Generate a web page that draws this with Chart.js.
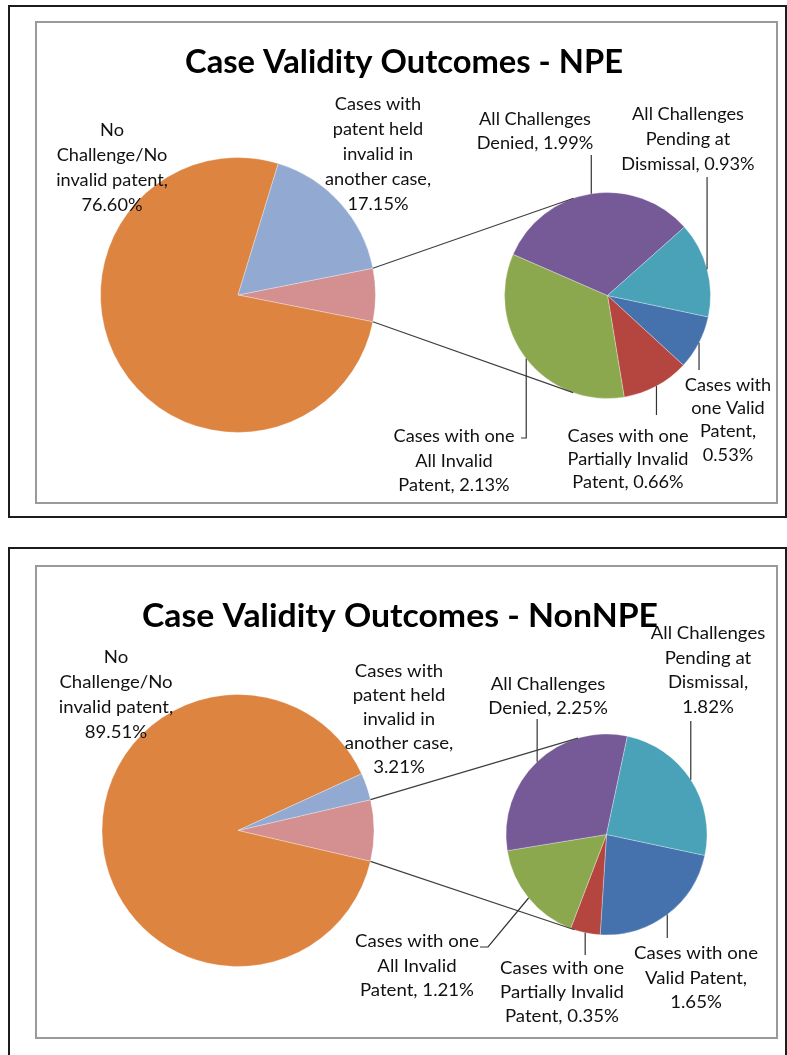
<!DOCTYPE html>
<html lang="en">
<head>
<meta charset="UTF-8">
<title>Case Validity Outcomes</title>
<script src="https://cdn.jsdelivr.net/npm/chart.js@4.4.1/dist/chart.umd.min.js"></script>
<style>
  html, body { margin: 0; padding: 0; background: #fff; width: 787px; height: 1055px; overflow: hidden; }
  .outer { position: absolute; border: 2px solid #1c1c1c; box-sizing: border-box; }
  .inner { position: absolute; border: 2px solid #9a9a9a; box-sizing: border-box; }
  canvas { position: absolute; left: 0; top: 0; }
</style>
</head>
<body>
<div class="outer" style="left:8px;top:5px;width:779px;height:513px"></div>
<div class="inner" style="left:35px;top:21px;width:743px;height:483px"></div>
<div class="outer" style="left:8px;top:547px;width:779px;height:520px"></div>
<div class="inner" style="left:35px;top:565px;width:743px;height:474px"></div>
<canvas id="main1" width="787" height="1055"></canvas>
<canvas id="sub1" width="787" height="1055"></canvas>
<canvas id="main2" width="787" height="1055"></canvas>
<canvas id="sub2" width="787" height="1055"></canvas>

<script>
// ---- data ----
const mainCategories = ['No Challenge/No invalid patent', 'Cases with patent held invalid in another case'];
const subCategories = [
  'Cases with one Valid Patent',
  'Cases with one Partially Invalid Patent',
  'Cases with one All Invalid Patent',
  'All Challenges Denied',
  'All Challenges Pending at Dismissal'
];
const npeMain = [76.60, 17.15];
const npeSub = [0.53, 0.66, 2.13, 1.99, 0.93];
const nonNpeMain = [89.51, 3.21];
const nonNpeSub = [1.65, 0.35, 1.21, 2.25, 1.82];

// ---- style ----
const otherColor = '#d49090';
const mainColors = ['#de8441', '#92a9d2'];
const subColors = ['#4571ad', '#b4463f', '#8ca84f', '#765a98', '#49a2b8'];
const W = 787, H = 1055;
const BODY_FONT = '18px Lato, "Open Sans", sans-serif';
const TITLE_FONT = 'bold 32px Lato, "Open Sans", sans-serif';

const fmt = v => v.toFixed(2) + '%';

const panels = [
  {
    title: 'Case Validity Outcomes - NPE', titleX: 404, titleY: 73, titleW: 438, bodyW: 121,
    main: npeMain, sub: npeSub,
    mainPie: { x: 238, y: 295, r: 137.5 },
    subPie: { x: 607.5, y: 295.5, r: 103 },
    mainLabels: [
      { lines: ['No', 'Challenge/No', 'invalid patent,', '{v}'], x: 112, y: 136, lh: 25 },
      { lines: ['Cases with', 'patent held', 'invalid in', 'another case,', '{v}'], x: 378, y: 110, lh: 25 }
    ],
    subLabels: [
      { lines: ['Cases with', 'one Valid', 'Patent,', '{v}'], x: 728, y: 390.5, lh: 23.4, leader: [{ y: 370 }] },
      { lines: ['Cases with one', 'Partially Invalid', 'Patent, {v}'], x: 628, y: 442, lh: 23, leader: [{ y: 415 }] },
      { lines: ['Cases with one', 'All Invalid', 'Patent, {v}'], x: 454, y: 442, lh: 24.5, leader: [{ y: 438 }, { x: 521, y: 438 }] },
      { lines: ['All Challenges', 'Denied, {v}'], x: 535, y: 125, lh: 24, leader: [{ y: 155 }] },
      { lines: ['All Challenges', 'Pending at', 'Dismissal, {v}'], x: 688, y: 120, lh: 25, leader: [{ y: 177 }] }
    ]
  },
  {
    title: 'Case Validity Outcomes - NonNPE', titleX: 400, titleY: 627, titleW: 516, bodyW: 124,
    main: nonNpeMain, sub: nonNpeSub,
    mainPie: { x: 238, y: 830.5, r: 136 },
    subPie: { x: 606.5, y: 834.5, r: 100.5 },
    mainLabels: [
      { lines: ['No', 'Challenge/No', 'invalid patent,', '{v}'], x: 116, y: 663, lh: 25 },
      { lines: ['Cases with', 'patent held', 'invalid in', 'another case,', '{v}'], x: 399, y: 677, lh: 24 }
    ],
    subLabels: [
      { lines: ['Cases with one', 'Valid Patent,', '{v}'], x: 696, y: 959, lh: 24.5, leader: [{ y: 938 }] },
      { lines: ['Cases with one', 'Partially Invalid', 'Patent, {v}'], x: 562, y: 974, lh: 24, leader: [{ y: 955 }] },
      { lines: ['Cases with one', 'All Invalid', 'Patent, {v}'], x: 417, y: 947, lh: 24.5, leader: [{ x: 488, y: 947 }, { x: 480, y: 947 }] },
      { lines: ['All Challenges', 'Denied, {v}'], x: 548, y: 690, lh: 24, leader: [{ y: 719 }] },
      { lines: ['All Challenges', 'Pending at', 'Dismissal,', '{v}'], x: 708, y: 639, lh: 24.7, leader: [{ y: 721 }] }
    ]
  }
];

function padFor(c) {
  const m = 4;
  return { left: c.x - c.r - m, right: W - c.x - c.r - m, top: c.y - c.r - m, bottom: H - c.y - c.r - m };
}

function drawLines(ctx, lines, x, y, lh, sx) {
  lines.forEach((t, i) => {
    ctx.save();
    ctx.translate(x, y + i * lh);
    ctx.scale(sx, 1);
    ctx.fillText(t, 0, 0);
    ctx.restore();
  });
}

function arcGeom(chart, i) {
  return chart.getDatasetMeta(0).data[i].getProps(['x', 'y', 'startAngle', 'endAngle', 'outerRadius'], true);
}

function makePanel(p, n) {
  const other = p.sub.reduce((a, b) => a + b, 0);
  const common = {
    responsive: false,
    animation: false,
    events: [],
    plugins: { legend: { display: false }, tooltip: { enabled: false } }
  };

  p.mainChart = new Chart(document.getElementById('main' + n), {
    type: 'pie',
    data: {
      labels: ['Other', ...mainCategories],
      datasets: [{
        data: [other, ...p.main],
        backgroundColor: [otherColor, ...mainColors],
        borderColor: 'rgba(255,255,255,0.3)',
        borderWidth: 1,
        radius: p.mainPie.r
      }]
    },
    options: { ...common, rotation: 90 - other * 1.8, layout: { padding: padFor(p.mainPie) } }
  });

  const overlay = {
    id: 'pieOfPieOverlay',
    afterDraw(chart) {
      const ctx = chart.ctx;
      const mainOther = arcGeom(p.mainChart, 0);
      const c = arcGeom(chart, 0);

      // connector lines: other slice edges -> tangents of the secondary pie
      ctx.save();
      ctx.strokeStyle = '#3f3f3f';
      ctx.lineWidth = 1.2;
      [[mainOther.startAngle, 1], [mainOther.endAngle, -1]].forEach(([a, s]) => {
        const px = mainOther.x + mainOther.outerRadius * Math.cos(a);
        const py = mainOther.y + mainOther.outerRadius * Math.sin(a);
        const d = Math.hypot(px - c.x, py - c.y);
        const phi = Math.atan2(py - c.y, px - c.x);
        const t = phi + s * Math.acos(c.outerRadius / d);
        ctx.beginPath();
        ctx.moveTo(px, py);
        ctx.lineTo(c.x + c.outerRadius * Math.cos(t), c.y + c.outerRadius * Math.sin(t));
        ctx.stroke();
      });

      // leader lines from slice mid-points
      ctx.strokeStyle = '#333';
      ctx.lineWidth = 1.2;
      p.subLabels.forEach((lab, i) => {
        const g = arcGeom(chart, i);
        const mid = (g.startAngle + g.endAngle) / 2;
        let x = g.x + g.outerRadius * Math.cos(mid);
        let y = g.y + g.outerRadius * Math.sin(mid);
        ctx.beginPath();
        ctx.moveTo(x, y);
        lab.leader.forEach(pt => {
          x = pt.x !== undefined ? pt.x : x;
          y = pt.y;
          ctx.lineTo(x, y);
        });
        ctx.stroke();
      });
      ctx.restore();

      // title
      ctx.save();
      ctx.fillStyle = '#000';
      ctx.textAlign = 'center';
      ctx.textBaseline = 'alphabetic';
      ctx.font = TITLE_FONT;
      const tsx = p.titleW / ctx.measureText(p.title).width;
      drawLines(ctx, [p.title], p.titleX, p.titleY, 0, tsx);

      // data labels
      ctx.font = BODY_FONT;
      ctx.fillStyle = '#111';
      const bsx = p.bodyW / ctx.measureText('Cases with one').width;
      p.mainLabels.forEach((lab, i) => {
        drawLines(ctx, lab.lines.map(t => t.replace('{v}', fmt(p.main[i]))), lab.x, lab.y, lab.lh, bsx);
      });
      p.subLabels.forEach((lab, i) => {
        drawLines(ctx, lab.lines.map(t => t.replace('{v}', fmt(p.sub[i]))), lab.x, lab.y, lab.lh, bsx);
      });
      ctx.restore();
    }
  };

  p.subChart = new Chart(document.getElementById('sub' + n), {
    type: 'pie',
    data: {
      labels: subCategories,
      datasets: [{
        data: p.sub,
        backgroundColor: subColors,
        borderColor: 'rgba(255,255,255,0.3)',
        borderWidth: 1,
        radius: p.subPie.r
      }]
    },
    options: { ...common, rotation: 102, layout: { padding: padFor(p.subPie) } },
    plugins: [overlay]
  });
}

panels.forEach((p, i) => makePanel(p, i + 1));
</script>
</body>
</html>
